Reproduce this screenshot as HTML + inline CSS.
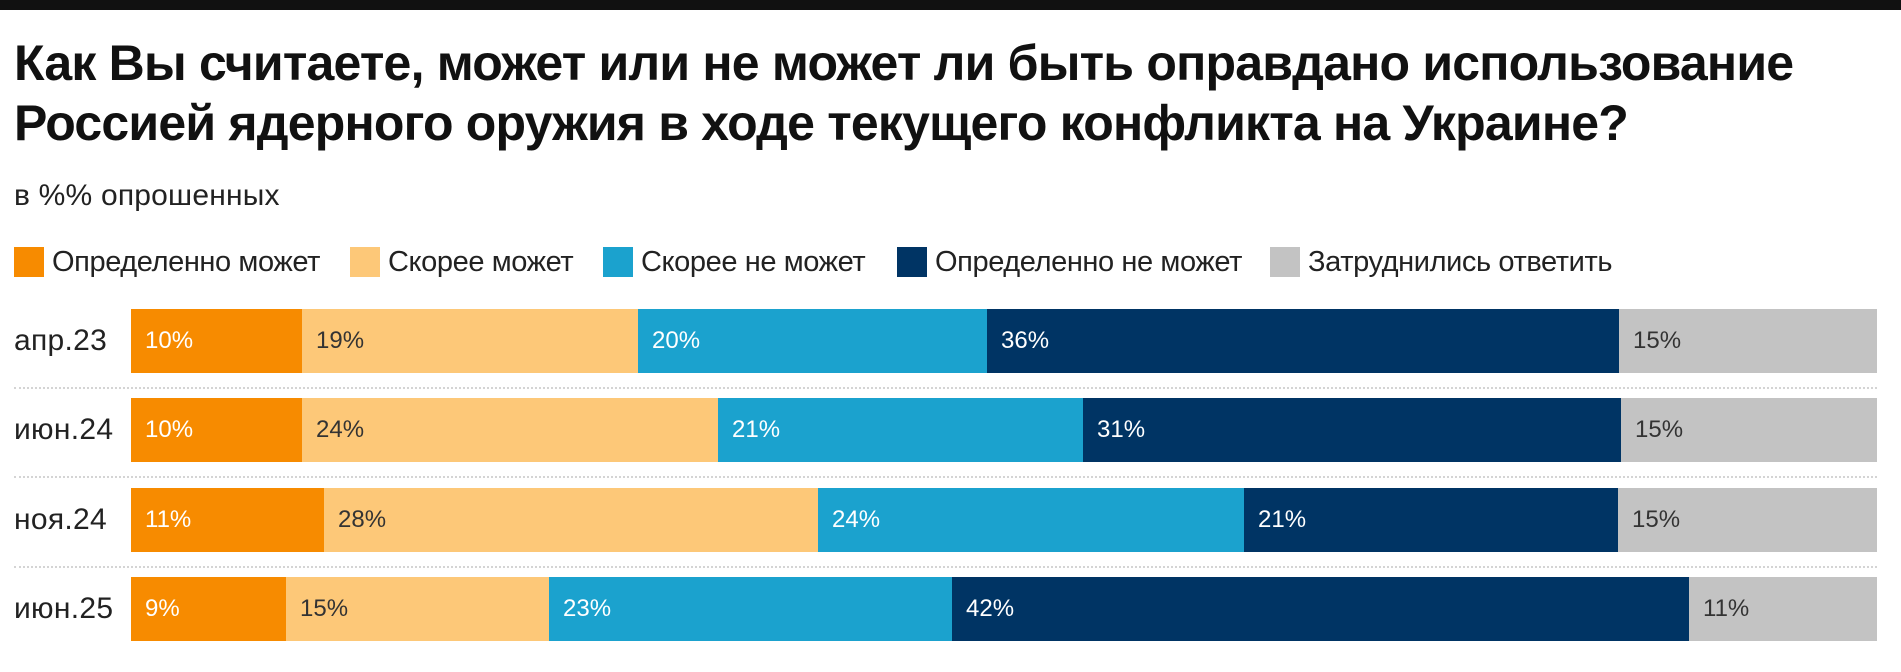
<!DOCTYPE html>
<html><head><meta charset="utf-8"><style>
*{margin:0;padding:0;box-sizing:border-box}
body{width:1901px;height:672px;background:#fff;position:relative;overflow:hidden;font-family:"Liberation Sans",Arial,sans-serif;color:#111}
.top{position:absolute;left:0;top:0;width:1901px;height:10px;background:#111}
.t{position:absolute;left:14px;font-size:50px;font-weight:bold;letter-spacing:-0.8px;white-space:nowrap}
.sub{position:absolute;left:14px;top:179px;font-size:30px;color:#222;letter-spacing:0.2px}
.lg{position:absolute;top:247px;height:30px;display:flex;align-items:center;font-size:29px;color:#222;letter-spacing:-0.4px}
.sq{width:30px;height:30px;margin-right:8px}
.row{position:absolute;left:131px;width:1746px;height:64px}
.row div{position:absolute;top:0;height:100%;font-size:24px;line-height:64px;padding-left:14px;white-space:nowrap;overflow:hidden}
.lab{position:absolute;left:14px;font-size:30px;color:#222;line-height:64px;letter-spacing:0.3px}
.o{background:#F78B00;color:#fff}.l{background:#FDC878;color:#333}.b{background:#1BA2CE;color:#fff}.n{background:#003464;color:#fff}.g{background:#C3C3C3;color:#333}
.sep{position:absolute;left:14px;width:1863px;border-top:2px dotted #d4d4d4}
</style></head><body>
<div class="top"></div>
<div class="t" style="top:34px">Как Вы считаете, может или не может ли быть оправдано использование</div>
<div class="t" style="top:94px">Россией ядерного оружия в ходе текущего конфликта на Украине?</div>
<div class="sub">в %% опрошенных</div>
<div class="lg" style="left:14px"><span class="sq o"></span>Определенно может</div>
<div class="lg" style="left:350px"><span class="sq l"></span>Скорее может</div>
<div class="lg" style="left:603px"><span class="sq b"></span>Скорее не может</div>
<div class="lg" style="left:897px"><span class="sq n"></span>Определенно не может</div>
<div class="lg" style="left:1270px"><span class="sq g"></span>Затруднились ответить</div>

<div class="lab" style="top:309px">апр.23</div>
<div class="row" style="top:309px"><div class="o" style="left:0;width:171px">10%</div><div class="l" style="left:171px;width:336px">19%</div><div class="b" style="left:507px;width:349px">20%</div><div class="n" style="left:856px;width:632px">36%</div><div class="g" style="left:1488px;width:258px">15%</div></div>
<div class="sep" style="top:387px"></div>
<div class="lab" style="top:398px">июн.24</div>
<div class="row" style="top:398px"><div class="o" style="left:0;width:171px">10%</div><div class="l" style="left:171px;width:416px">24%</div><div class="b" style="left:587px;width:365px">21%</div><div class="n" style="left:952px;width:538px">31%</div><div class="g" style="left:1490px;width:256px">15%</div></div>
<div class="sep" style="top:476px"></div>
<div class="lab" style="top:488px">ноя.24</div>
<div class="row" style="top:488px"><div class="o" style="left:0;width:193px">11%</div><div class="l" style="left:193px;width:494px">28%</div><div class="b" style="left:687px;width:426px">24%</div><div class="n" style="left:1113px;width:374px">21%</div><div class="g" style="left:1487px;width:259px">15%</div></div>
<div class="sep" style="top:566px"></div>
<div class="lab" style="top:577px">июн.25</div>
<div class="row" style="top:577px"><div class="o" style="left:0;width:155px">9%</div><div class="l" style="left:155px;width:263px">15%</div><div class="b" style="left:418px;width:403px">23%</div><div class="n" style="left:821px;width:737px">42%</div><div class="g" style="left:1558px;width:188px">11%</div></div>
</body></html>
